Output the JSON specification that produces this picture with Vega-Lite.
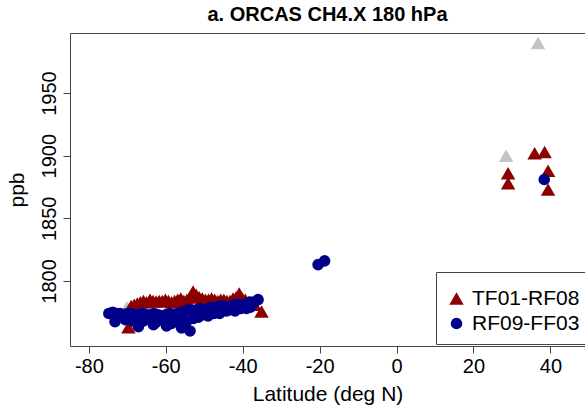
{
  "$schema": "https://vega.github.io/schema/vega-lite/v6.json",
  "width": 515,
  "height": 313,
  "autosize": {"type": "none"},
  "padding": {"left": 70, "top": 33, "right": 0, "bottom": 61},
  "background": "white",
  "config": {
    "view": {"stroke": null},
    "font": "Liberation Sans",
    "axis": {"grid": false, "labelFont": "Liberation Sans", "titleFont": "Liberation Sans", "labelColor": "#000", "titleColor": "#000", "titleFontWeight": "normal", "domainColor": "#444", "tickColor": "#444"},
    "title": {"font": "Liberation Sans", "fontSize": 20, "fontWeight": "bold", "color": "#000"}
  },
  "title": {"text": "a. ORCAS CH4.X 180 hPa", "anchor": "middle", "offset": 8},
  "data": {"values": [
    {"set": "gray", "lat": 36.8, "ppb": 1990},
    {"set": "gray", "lat": 28.5, "ppb": 1900},
    {"set": "gray", "lat": -70.1, "ppb": 1779},
    {"set": "TF01-RF08", "lat": 29.0, "ppb": 1886},
    {"set": "TF01-RF08", "lat": 29.0, "ppb": 1878},
    {"set": "TF01-RF08", "lat": 35.9, "ppb": 1902},
    {"set": "TF01-RF08", "lat": 38.5, "ppb": 1903},
    {"set": "TF01-RF08", "lat": 39.4, "ppb": 1888},
    {"set": "TF01-RF08", "lat": 39.4, "ppb": 1873},
    {"set": "TF01-RF08", "lat": -69.7, "ppb": 1763},
    {"set": "TF01-RF08", "lat": -69.0, "ppb": 1780},
    {"set": "TF01-RF08", "lat": -68.2, "ppb": 1781},
    {"set": "TF01-RF08", "lat": -67.4, "ppb": 1782},
    {"set": "TF01-RF08", "lat": -66.6, "ppb": 1783},
    {"set": "TF01-RF08", "lat": -65.8, "ppb": 1784},
    {"set": "TF01-RF08", "lat": -65.0, "ppb": 1783},
    {"set": "TF01-RF08", "lat": -64.1, "ppb": 1785},
    {"set": "TF01-RF08", "lat": -63.3, "ppb": 1784},
    {"set": "TF01-RF08", "lat": -62.5, "ppb": 1783.5},
    {"set": "TF01-RF08", "lat": -61.7, "ppb": 1784},
    {"set": "TF01-RF08", "lat": -60.9, "ppb": 1784},
    {"set": "TF01-RF08", "lat": -60.1, "ppb": 1785},
    {"set": "TF01-RF08", "lat": -59.3, "ppb": 1784},
    {"set": "TF01-RF08", "lat": -58.5, "ppb": 1783},
    {"set": "TF01-RF08", "lat": -57.7, "ppb": 1784},
    {"set": "TF01-RF08", "lat": -56.9, "ppb": 1785},
    {"set": "TF01-RF08", "lat": -56.1, "ppb": 1786},
    {"set": "TF01-RF08", "lat": -55.3, "ppb": 1784},
    {"set": "TF01-RF08", "lat": -54.5, "ppb": 1785},
    {"set": "TF01-RF08", "lat": -53.7, "ppb": 1787},
    {"set": "TF01-RF08", "lat": -52.9, "ppb": 1791.5},
    {"set": "TF01-RF08", "lat": -52.1, "ppb": 1789},
    {"set": "TF01-RF08", "lat": -51.3, "ppb": 1787},
    {"set": "TF01-RF08", "lat": -50.5, "ppb": 1786},
    {"set": "TF01-RF08", "lat": -49.7, "ppb": 1785},
    {"set": "TF01-RF08", "lat": -48.9, "ppb": 1785},
    {"set": "TF01-RF08", "lat": -48.1, "ppb": 1786},
    {"set": "TF01-RF08", "lat": -47.3, "ppb": 1785},
    {"set": "TF01-RF08", "lat": -46.5, "ppb": 1784},
    {"set": "TF01-RF08", "lat": -45.7, "ppb": 1785},
    {"set": "TF01-RF08", "lat": -44.9, "ppb": 1785},
    {"set": "TF01-RF08", "lat": -44.1, "ppb": 1784},
    {"set": "TF01-RF08", "lat": -43.3, "ppb": 1784},
    {"set": "TF01-RF08", "lat": -42.5, "ppb": 1786},
    {"set": "TF01-RF08", "lat": -41.7, "ppb": 1787},
    {"set": "TF01-RF08", "lat": -40.9, "ppb": 1790},
    {"set": "TF01-RF08", "lat": -40.1, "ppb": 1786},
    {"set": "TF01-RF08", "lat": -39.3, "ppb": 1785},
    {"set": "TF01-RF08", "lat": -38.5, "ppb": 1783},
    {"set": "TF01-RF08", "lat": -37.7, "ppb": 1782},
    {"set": "TF01-RF08", "lat": -36.9, "ppb": 1781},
    {"set": "TF01-RF08", "lat": -35.1, "ppb": 1775.5},
    {"set": "RF09-FF03", "lat": 38.4, "ppb": 1881},
    {"set": "RF09-FF03", "lat": -20.4, "ppb": 1813},
    {"set": "RF09-FF03", "lat": -18.7, "ppb": 1816},
    {"set": "RF09-FF03", "lat": -74.8, "ppb": 1774},
    {"set": "RF09-FF03", "lat": -73.8, "ppb": 1775},
    {"set": "RF09-FF03", "lat": -72.8, "ppb": 1774},
    {"set": "RF09-FF03", "lat": -71.9, "ppb": 1774},
    {"set": "RF09-FF03", "lat": -70.9, "ppb": 1773},
    {"set": "RF09-FF03", "lat": -70.0, "ppb": 1774},
    {"set": "RF09-FF03", "lat": -69.0, "ppb": 1774},
    {"set": "RF09-FF03", "lat": -68.0, "ppb": 1773},
    {"set": "RF09-FF03", "lat": -67.0, "ppb": 1773},
    {"set": "RF09-FF03", "lat": -66.0, "ppb": 1774},
    {"set": "RF09-FF03", "lat": -65.0, "ppb": 1773},
    {"set": "RF09-FF03", "lat": -64.0, "ppb": 1773},
    {"set": "RF09-FF03", "lat": -63.0, "ppb": 1774},
    {"set": "RF09-FF03", "lat": -62.0, "ppb": 1773},
    {"set": "RF09-FF03", "lat": -61.0, "ppb": 1772},
    {"set": "RF09-FF03", "lat": -60.0, "ppb": 1773},
    {"set": "RF09-FF03", "lat": -59.0, "ppb": 1774},
    {"set": "RF09-FF03", "lat": -58.0, "ppb": 1773},
    {"set": "RF09-FF03", "lat": -57.0, "ppb": 1774},
    {"set": "RF09-FF03", "lat": -56.0, "ppb": 1775},
    {"set": "RF09-FF03", "lat": -55.0, "ppb": 1776},
    {"set": "RF09-FF03", "lat": -54.0, "ppb": 1777},
    {"set": "RF09-FF03", "lat": -53.0, "ppb": 1776},
    {"set": "RF09-FF03", "lat": -52.0, "ppb": 1777},
    {"set": "RF09-FF03", "lat": -51.0, "ppb": 1778},
    {"set": "RF09-FF03", "lat": -50.0, "ppb": 1777},
    {"set": "RF09-FF03", "lat": -49.0, "ppb": 1778},
    {"set": "RF09-FF03", "lat": -48.0, "ppb": 1779},
    {"set": "RF09-FF03", "lat": -47.0, "ppb": 1778},
    {"set": "RF09-FF03", "lat": -46.0, "ppb": 1780},
    {"set": "RF09-FF03", "lat": -45.0, "ppb": 1780},
    {"set": "RF09-FF03", "lat": -44.0, "ppb": 1779},
    {"set": "RF09-FF03", "lat": -43.0, "ppb": 1780},
    {"set": "RF09-FF03", "lat": -42.0, "ppb": 1781},
    {"set": "RF09-FF03", "lat": -41.0, "ppb": 1781},
    {"set": "RF09-FF03", "lat": -40.0, "ppb": 1780},
    {"set": "RF09-FF03", "lat": -39.0, "ppb": 1782},
    {"set": "RF09-FF03", "lat": -38.0, "ppb": 1783},
    {"set": "RF09-FF03", "lat": -37.0, "ppb": 1783},
    {"set": "RF09-FF03", "lat": -36.0, "ppb": 1785},
    {"set": "RF09-FF03", "lat": -73.2, "ppb": 1767.5},
    {"set": "RF09-FF03", "lat": -70.5, "ppb": 1769},
    {"set": "RF09-FF03", "lat": -68.5, "ppb": 1768},
    {"set": "RF09-FF03", "lat": -67.1, "ppb": 1763.5},
    {"set": "RF09-FF03", "lat": -65.8, "ppb": 1768},
    {"set": "RF09-FF03", "lat": -64.5, "ppb": 1770},
    {"set": "RF09-FF03", "lat": -63.2, "ppb": 1765},
    {"set": "RF09-FF03", "lat": -62.5, "ppb": 1767},
    {"set": "RF09-FF03", "lat": -61.0, "ppb": 1769},
    {"set": "RF09-FF03", "lat": -59.8, "ppb": 1764},
    {"set": "RF09-FF03", "lat": -58.5, "ppb": 1766},
    {"set": "RF09-FF03", "lat": -57.6, "ppb": 1770},
    {"set": "RF09-FF03", "lat": -56.8, "ppb": 1769},
    {"set": "RF09-FF03", "lat": -55.9, "ppb": 1762.5},
    {"set": "RF09-FF03", "lat": -54.6, "ppb": 1767.5},
    {"set": "RF09-FF03", "lat": -53.7, "ppb": 1760},
    {"set": "RF09-FF03", "lat": -52.8, "ppb": 1770},
    {"set": "RF09-FF03", "lat": -51.5, "ppb": 1771},
    {"set": "RF09-FF03", "lat": -50.2, "ppb": 1773},
    {"set": "RF09-FF03", "lat": -49.0, "ppb": 1772},
    {"set": "RF09-FF03", "lat": -47.5, "ppb": 1774},
    {"set": "RF09-FF03", "lat": -46.0, "ppb": 1774},
    {"set": "RF09-FF03", "lat": -44.2, "ppb": 1776},
    {"set": "RF09-FF03", "lat": -43.3, "ppb": 1777},
    {"set": "RF09-FF03", "lat": -42.0, "ppb": 1776},
    {"set": "RF09-FF03", "lat": -40.5, "ppb": 1778},
    {"set": "RF09-FF03", "lat": -39.0, "ppb": 1778},
    {"set": "RF09-FF03", "lat": -38.0, "ppb": 1779}
  ]},
  "layer": [
    {
      "transform": [{"filter": "datum.set === 'gray'"}],
      "mark": {"type": "point", "shape": "triangle-up", "filled": true, "color": "#c4c4c4", "size": 210, "opacity": 1, "strokeWidth": 0},
      "encoding": {
        "x": {"field": "lat", "type": "quantitative", "scale": {"domain": [-84.9, 49], "nice": false, "zero": false},
              "axis": {"orient": "top", "labels": false, "ticks": false, "domain": true, "title": null}},
        "y": {"field": "ppb", "type": "quantitative", "scale": {"domain": [1748, 1998], "nice": false, "zero": false},
              "axis": {"values": [1800, 1850, 1900, 1950], "format": "d", "title": "ppb", "titleFontSize": 21, "labelFontSize": 20, "labelAngle": -90, "labelAlign": "center", "labelBaseline": "bottom", "tickSize": 7, "labelPadding": 4, "titlePadding": 12}}
      }
    },
    {
      "transform": [{"filter": "datum.set !== 'gray'"}],
      "mark": {"type": "point", "filled": true, "opacity": 1, "strokeWidth": 0},
      "encoding": {
        "x": {"field": "lat", "type": "quantitative", "scale": {"domain": [-84.9, 49], "nice": false, "zero": false},
              "axis": {"orient": "bottom", "values": [-80, -60, -40, -20, 0, 20, 40], "labelExpr": "datum.value < 0 ? '-' + abs(datum.value) : '' + datum.value", "title": "Latitude (deg N)", "titleFontSize": 21, "labelFontSize": 20, "tickSize": 7, "labelPadding": 3, "titlePadding": 7}},
        "y": {"field": "ppb", "type": "quantitative", "scale": {"domain": [1748, 1998], "nice": false, "zero": false},
              "axis": {"values": [1800, 1850, 1900, 1950], "format": "d", "title": "ppb", "titleFontSize": 21, "labelFontSize": 20, "labelAngle": -90, "labelAlign": "center", "labelBaseline": "bottom", "tickSize": 7, "labelPadding": 4, "titlePadding": 12}},
        "color": {"field": "set", "type": "nominal", "scale": {"domain": ["TF01-RF08", "RF09-FF03"], "range": ["#8b0000", "#00008b"]},
                  "legend": {"title": " ", "titleFontSize": 1, "titlePadding": 5, "orient": "none", "legendX": 366, "legendY": 239, "strokeColor": "#444", "fillColor": "white", "padding": 10, "labelFontSize": 21, "labelFont": "Liberation Sans", "labelColor": "#000", "symbolSize": 190, "labelOffset": 5, "rowPadding": 3, "symbolStrokeWidth": 0}},
        "shape": {"field": "set", "type": "nominal", "scale": {"domain": ["TF01-RF08", "RF09-FF03"], "range": ["triangle-up", "circle"]},
                  "legend": {"title": " ", "titleFontSize": 1, "titlePadding": 5, "orient": "none", "legendX": 366, "legendY": 239, "strokeColor": "#444", "fillColor": "white", "padding": 10, "labelFontSize": 21, "labelFont": "Liberation Sans", "labelColor": "#000", "symbolSize": 190, "labelOffset": 5, "rowPadding": 3, "symbolStrokeWidth": 0}},
        "size": {"field": "set", "type": "nominal", "scale": {"domain": ["TF01-RF08", "RF09-FF03"], "range": [210, 135]}, "legend": null}
      }
    }
  ],
  "resolve": {"axis": {"x": "independent"}}
}
